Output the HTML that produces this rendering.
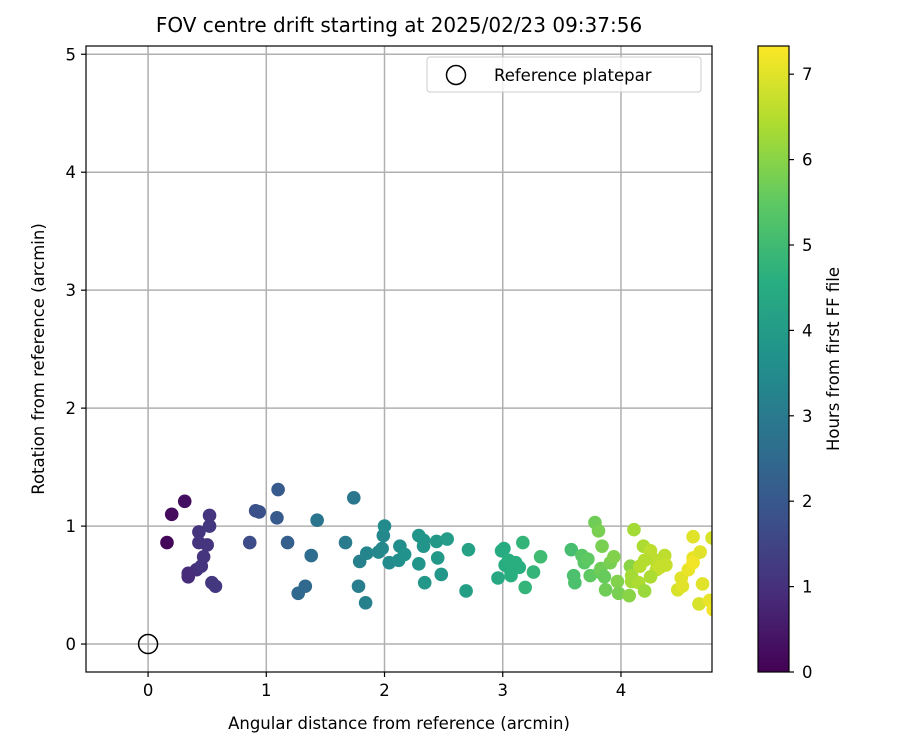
<!DOCTYPE html>
<html><head><meta charset="utf-8"><style>
body{margin:0;background:#fff;}
svg text{font-family:"DejaVu Sans","Liberation Sans",sans-serif;fill:#000;}
</style></head><body>
<svg id="chart" width="900" height="750" viewBox="0 0 900 750">
<defs>
<linearGradient id="vir" x1="0" y1="1" x2="0" y2="0">
<stop offset="0" stop-color="#440154"/><stop offset="0.125" stop-color="#472d7b"/><stop offset="0.25" stop-color="#3b528b"/><stop offset="0.375" stop-color="#2c728e"/><stop offset="0.5" stop-color="#21918c"/><stop offset="0.625" stop-color="#28ae80"/><stop offset="0.75" stop-color="#5ec962"/><stop offset="0.875" stop-color="#addc30"/><stop offset="1" stop-color="#fde725"/>
</linearGradient>
<clipPath id="pc"><rect x="86" y="46" width="626" height="626"/></clipPath>
</defs>
<text x="399" y="32" font-size="20" text-anchor="middle">FOV centre drift starting at 2025/02/23 09:37:56</text>
<g id="grid"></g>
<g id="pts" clip-path="url(#pc)"></g>
<rect x="86" y="46" width="626" height="626" fill="none" stroke="#000" stroke-width="1.2"/>
<g id="ticks"></g>
<text x="399" y="729" font-size="16.5" text-anchor="middle">Angular distance from reference (arcmin)</text>
<text transform="translate(44,359) rotate(-90)" font-size="16.5" text-anchor="middle">Rotation from reference (arcmin)</text>
<g>
<rect x="427" y="57" width="274" height="35" rx="3" fill="#fff" fill-opacity="0.8" stroke="#ccc"/>
<circle cx="456" cy="75" r="9.5" fill="none" stroke="#000" stroke-width="1.5"/>
<text x="494" y="81" font-size="16.5">Reference platepar</text>
</g>
<rect x="758" y="46" width="31" height="626" fill="url(#vir)" stroke="#000" stroke-width="1.2"/>
<g id="cbticks"></g>
<text transform="translate(839,359) rotate(-90)" font-size="16.5" text-anchor="middle">Hours from first FF file</text>
</svg>
<script>
const xs=[0.16,0.20,0.31,0.34,0.34,0.41,0.43,0.43,0.50,0.47,0.45,0.52,0.52,0.54,0.57,0.86,0.91,0.94,1.10,1.09,1.18,1.27,1.33,1.38,1.43,1.67,1.74,1.78,1.79,1.84,1.85,1.95,1.99,2.00,2.04,1.98,2.12,2.13,2.17,2.29,2.33,2.33,2.29,2.34,2.44,2.45,2.48,2.53,2.69,2.71,2.96,2.99,3.01,3.02,3.05,3.07,3.07,3.11,3.14,3.17,3.19,3.26,3.32,3.58,3.60,3.61,3.67,3.69,3.72,3.74,3.78,3.81,3.82,3.84,3.83,3.86,3.87,3.91,3.94,3.97,3.98,4.07,4.11,4.09,4.08,4.09,4.15,4.19,4.20,4.16,4.25,4.29,4.30,4.33,4.37,4.38,4.20,4.25,4.48,4.51,4.52,4.57,4.61,4.61,4.66,4.67,4.69,4.61,4.77,4.75,4.78];
const ys=[0.86,1.10,1.21,0.60,0.57,0.63,0.95,0.86,0.84,0.74,0.66,1.09,1.00,0.52,0.49,0.86,1.13,1.12,1.31,1.07,0.86,0.43,0.49,0.75,1.05,0.86,1.24,0.49,0.70,0.35,0.77,0.78,0.92,1.00,0.69,0.81,0.71,0.83,0.76,0.92,0.88,0.83,0.68,0.52,0.87,0.73,0.59,0.89,0.45,0.80,0.56,0.79,0.81,0.67,0.71,0.61,0.58,0.69,0.65,0.86,0.48,0.61,0.74,0.80,0.58,0.52,0.75,0.69,0.72,0.58,1.03,0.96,0.61,0.83,0.64,0.57,0.46,0.69,0.74,0.53,0.43,0.41,0.97,0.53,0.66,0.58,0.52,0.83,0.45,0.66,0.79,0.71,0.63,0.65,0.75,0.67,0.71,0.57,0.46,0.56,0.49,0.63,0.91,0.73,0.34,0.78,0.51,0.69,0.90,0.37,0.29];
const hours=[0.1,0.2,0.3,0.9,0.9,1.0,1.1,1.1,1.1,1.1,1.1,1.1,1.2,1.2,1.2,1.7,1.8,1.8,2.1,2.1,2.2,2.5,2.5,2.6,2.8,3.0,2.9,3.1,3.2,3.2,3.3,3.4,3.4,3.5,3.5,3.4,3.6,3.6,3.7,3.8,3.8,3.8,3.8,3.9,3.9,3.9,3.9,4.0,4.1,4.2,4.4,4.5,4.5,4.5,4.6,4.6,4.6,4.6,4.6,4.8,4.8,4.8,5.0,5.1,5.2,5.2,5.4,5.4,5.5,5.5,5.7,5.8,5.6,5.8,5.7,5.6,5.7,5.8,5.9,5.9,5.8,6.0,6.3,6.3,6.0,6.3,6.4,6.4,6.2,6.5,6.6,6.6,6.6,6.7,6.6,6.7,6.5,6.4,6.9,7.0,7.0,7.1,7.0,7.1,6.9,7.0,7.0,7.2,6.9,7.1,7.2];
const xTicks=[0,1,2,3,4];
const yTicks=[0,1,2,3,4,5];
const cTicks=[0,1,2,3,4,5,6,7];
const X0=86,X1=712,Y0=672,Y1=46,xMin=-0.525,xMax=4.77,yMin=-0.237,yMax=5.07,cMax=7.33;
const sx=v=>X0+(v-xMin)/(xMax-xMin)*(X1-X0);
const sy=v=>Y0-(v-yMin)/(yMax-yMin)*(Y0-Y1);
const sc=v=>Y0-v/cMax*(Y0-Y1);
const vir=[[68,1,84],[71,45,123],[59,82,139],[44,114,142],[33,145,140],[40,174,128],[94,201,98],[173,220,48],[253,231,37]];
function col(h){let t=Math.max(0,Math.min(1,h/cMax))*8;let i=Math.min(7,Math.floor(t)),f=t-i;let a=vir[i],b=vir[i+1];return 'rgb('+a.map((v,k)=>Math.round(v+(b[k]-v)*f)).join(',')+')';}
const NS='http://www.w3.org/2000/svg';
function mk(p,tag,at){const e=document.createElementNS(NS,tag);for(const k in at)e.setAttribute(k,at[k]);p.appendChild(e);return e;}
const g=document.getElementById('grid'),tk=document.getElementById('ticks'),pts=document.getElementById('pts'),cb=document.getElementById('cbticks');
xTicks.forEach(v=>{const x=sx(v);
const l=mk(g,'line',{x1:x,x2:x,y1:Y1,y2:Y0,stroke:'#b0b0b0','stroke-width':1.5});


const t=mk(tk,'line',{x1:x,x2:x,y1:Y0,y2:Y0+5,stroke:'#000','stroke-width':1.2});


const s=mk(tk,'text',{x:x,y:Y0+24,'font-size':16.5,'text-anchor':'middle'});s.textContent=v;

});
yTicks.forEach(v=>{const y=sy(v);
const l=mk(g,'line',{x1:X0,x2:X1,y1:y,y2:y,stroke:'#b0b0b0','stroke-width':1.5});


const t=mk(tk,'line',{x1:X0-5,x2:X0,y1:y,y2:y,stroke:'#000','stroke-width':1.2});


const s=mk(tk,'text',{x:X0-10,y:y+6,'font-size':16.5,'text-anchor':'end'});s.textContent=v;

});
xs.forEach((v,i)=>{const c=mk(pts,'circle',{cx:sx(v),cy:sy(ys[i]),r:6.8,fill:col(hours[i])});

});
const ref=mk(pts,'circle',{cx:sx(0),cy:sy(0),r:9.5,fill:'none',stroke:'#000','stroke-width':1.5});


cTicks.forEach(v=>{const y=sc(v);
const t=mk(cb,'line',{x1:789,x2:794,y1:y,y2:y,stroke:'#000','stroke-width':1.2});


const s=mk(cb,'text',{x:802,y:y+6,'font-size':16.5});s.textContent=v;

});
</script>
</body></html>
